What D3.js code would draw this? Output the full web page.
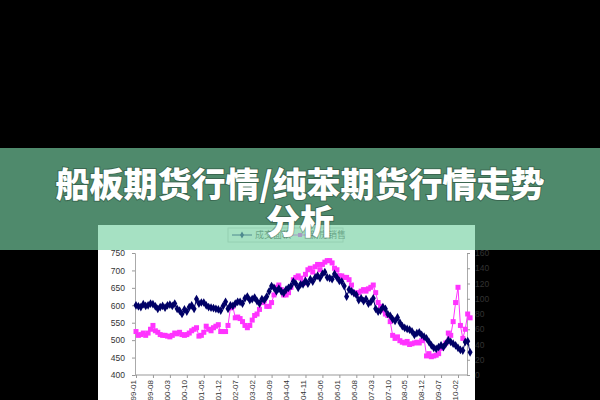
<!DOCTYPE html><html><head><meta charset="utf-8">
<script src="https://cdn.jsdelivr.net/npm/d3@7"></script>
<style>body{margin:0;background:#000}svg{display:block}</style></head><body>
<script>
const titleLines=["船板期货行情/纯苯期货行情走势","分析"];
const xTickLabels=["99-01","99-08","00-03","00-10","01-05","01-12","02-07","03-02","03-09","04-04","04-11","05-06","06-01","06-08","07-03","07-10","08-05","08-12","09-07","10-02"];
const leftTicks=[400,450,500,550,600,650,700,750];
const rightTicks=[0,20,40,60,80,100,120,140,160];
const seriesNames=["成交面积","新房销售"];
const navy=[600,597,595,603,598,600,605,603,597,590,595,598,593,600,602,598,605,590,585,575,588,582,595,600,590,618,605,608,608,600,595,593,592,590,588,585,598,610,590,600,598,605,610,610,605,620,625,615,618,622,612,605,618,615,625,640,655,650,640,648,640,635,645,650,655,668,662,650,660,660,670,662,675,668,680,685,678,690,695,680,678,675,690,680,670,668,655,625,645,640,635,630,615,620,612,618,605,610,620,590,582,585,595,590,575,570,560,555,565,550,540,535,532,530,525,515,520,522,515,510,505,495,485,478,475,480,485,480,490,500,495,490,485,478,472,470,495,497,465];
const magenta=[57,52,53,55,52,55,60,65,58,56,53,52,52,51,50,52,55,54,56,53,52,53,55,58,60,62,51,52,56,64,60,58,62,64,66,57,57,57,65,88,90,75,76,74,70,65,62,65,72,78,80,86,95,98,90,90,95,105,115,118,112,105,105,108,115,125,128,130,127,120,132,138,140,135,142,145,138,145,148,150,150,147,140,138,130,130,128,128,125,118,108,106,108,110,112,110,113,115,118,108,95,90,85,80,78,70,52,48,50,45,43,42,44,40,41,42,43,42,45,48,25,28,24,25,26,28,35,38,42,55,52,70,95,115,65,48,60,80,75];

const svg=d3.select("body").append("svg").attr("width",600).attr("height",400);
svg.append("rect").attr("x",98).attr("y",225).attr("width",377).attr("height",175).attr("fill","#fff");
const x=d3.scaleLinear().domain([0,133]).range([136,458]);
const yl=d3.scaleLinear().domain([400,750]).range([375,253]);
const yr=d3.scaleLinear().domain([0,160]).range([375,253]);
const g=svg.append("g");
g.append("line").attr("x1",135).attr("x2",467).attr("y1",375).attr("y2",375).attr("stroke","#999");
const al=g.append("g").attr("transform","translate(135,0)").call(d3.axisLeft(yl).tickValues(leftTicks).tickSize(3));
const ar=g.append("g").attr("transform","translate(467,0)").call(d3.axisRight(yr).tickValues(rightTicks).tickSize(3));
[al,ar].forEach(a=>{a.select(".domain").attr("stroke","#aaa");a.selectAll("line").attr("stroke","#999");a.selectAll("text").attr("font-family","Liberation Sans, Arial").attr("font-size",8.5).attr("fill","#333");});
al.selectAll("text").attr("x",-10);ar.selectAll("text").attr("x",8);
const ax=g.append("g").attr("transform","translate(0,375)").call(d3.axisBottom(x).tickValues(d3.range(0,134,7)).tickFormat((d,i)=>xTickLabels[i]).tickSize(3));
ax.select(".domain").remove();ax.selectAll("line").attr("stroke","#999");
ax.selectAll("text").attr("font-family","Liberation Sans, Arial").attr("font-size",8).attr("fill","#333").attr("transform","rotate(-90)").attr("text-anchor","end").attr("x",-5).attr("y",-3).attr("dy","0.35em");
const ln=(yf)=>d3.line().x((d,i)=>x(i)).y(d=>yf(d));
g.append("path").datum(magenta).attr("d",ln(yr)).attr("fill","none").attr("stroke","#ff33ff").attr("stroke-width",1);
g.selectAll(".m").data(magenta).join("rect").attr("x",(d,i)=>x(i)-2.5).attr("y",d=>yr(d)-2.5).attr("width",5).attr("height",5).attr("fill","#ff33ff");
g.append("path").datum(navy).attr("d",ln(yl)).attr("fill","none").attr("stroke","#000066").attr("stroke-width",1);
g.selectAll(".n").data(navy).join("path").attr("d",d3.symbol(d3.symbolDiamond,22)).attr("transform",(d,i)=>`translate(${x(i)},${yl(d)})`).attr("fill","#000066");
const lg=svg.append("g");
lg.append("rect").attr("x",228).attr("y",228).attr("width",115).attr("height",14).attr("fill","#fff").attr("stroke","#ccc");
lg.append("line").attr("x1",232).attr("x2",252).attr("y1",235).attr("y2",235).attr("stroke","#000066");
lg.append("path").attr("d",d3.symbol(d3.symbolDiamond,14)).attr("transform","translate(242,235)").attr("fill","#000066");
lg.append("text").attr("x",255).attr("y",238).text(seriesNames[0]).attr("font-size",9).attr("font-family","Noto Sans CJK SC").attr("fill","#555");
lg.append("line").attr("x1",292).attr("x2",308).attr("y1",235).attr("y2",235).attr("stroke","#ff33ff");
lg.append("rect").attr("x",298).attr("y",233).attr("width",4).attr("height",4).attr("fill","#ff33ff");
lg.append("text").attr("x",310).attr("y",238).text(seriesNames[1]).attr("font-size",9).attr("font-family","Noto Sans CJK SC").attr("fill","#555");
svg.append("rect").attr("x",0).attr("y",148).attr("width",600).attr("height",102).attr("fill","rgb(120,209,164)").attr("fill-opacity",0.66);
svg.selectAll(".t").data(titleLines).join("text").attr("x",300).attr("y",(d,i)=>197+i*37).attr("text-anchor","middle").text(d=>d)
 .attr("font-family","Noto Sans CJK SC").attr("font-weight",900).attr("font-size",34).attr("fill","#fff")
 .style("paint-order","stroke").attr("stroke","rgba(0,0,0,0.25)").attr("stroke-width",2);
</script></body></html>
